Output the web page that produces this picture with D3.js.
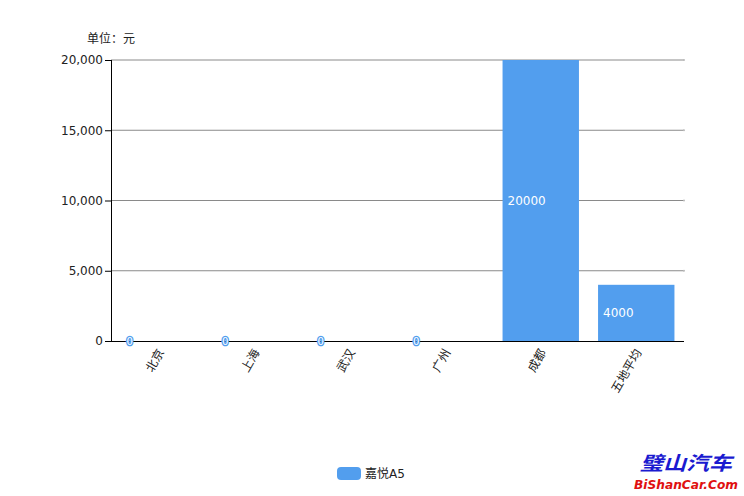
<!DOCTYPE html>
<html><head><meta charset="utf-8">
<script src="https://cdn.jsdelivr.net/npm/d3@7"></script>
<style>body{margin:0;background:#fff}svg{display:block}text{font-family:"DejaVu Sans","Noto Sans CJK SC",sans-serif}</style>
</head><body>
<svg id="c" width="744" height="496"></svg>
<script>
const categories = ["北京","上海","武汉","广州","成都","五地平均"];
const values = [0,0,0,0,20000,4000];
const yTicks = [0,5000,10000,15000,20000];
const seriesName = "嘉悦A5";
const unitLabel = "单位：元";
const color = "#529eee";

const svg = d3.select("#c");
const m = {l:111, r:684, t:60, b:341};
const x = d3.scaleBand().domain(categories).range([m.l, m.r]).paddingInner(0.2).paddingOuter(0.1);
const y = d3.scaleLinear().domain([0,20000]).range([m.b, m.t]);

// gridlines
svg.append("g").selectAll("line").data(yTicks.filter(d=>d>0)).join("line")
  .attr("x1", m.l).attr("x2", m.r).attr("y1", d=>y(d)).attr("y2", d=>y(d))
  .attr("stroke", "#8a8a8a").attr("stroke-width", 1);
svg.append("g").selectAll("circle").data(yTicks.filter(d=>d>0)).join("circle")
  .attr("cx", m.r).attr("cy", d=>y(d)).attr("r", 1).attr("fill", "#bbb");

// y axis
const ya = svg.append("g").attr("transform", `translate(${m.l},0)`)
  .call(d3.axisLeft(y).tickValues(yTicks).tickFormat(d3.format(",")).tickSize(6).tickPadding(2));
ya.select(".domain").remove();
ya.selectAll("line").attr("stroke", "#000");
ya.selectAll("text").attr("font-size", 12).attr("fill", "#222");
svg.append("line").attr("x1", m.l+0.5).attr("x2", m.l+0.5).attr("y1", m.t).attr("y2", m.b).attr("stroke", "#000");

// bars
svg.append("g").selectAll("rect").data(values).join("rect")
  .attr("x", (d,i)=>x(categories[i])).attr("width", x.bandwidth())
  .attr("y", d=>y(d)).attr("height", d=>m.b - y(d)).attr("fill", color);

// baseline
svg.append("line").attr("x1", m.l).attr("x2", m.r).attr("y1", m.b+0.5).attr("y2", m.b+0.5).attr("stroke", "#000");

// value labels
svg.append("g").selectAll("text").data(values).join("text")
  .attr("x", (d,i)=>x(categories[i]) + (d===0 ? 6 : 5))
  .attr("y", d=>(y(d)+m.b)/2 + 4)
  .attr("font-size", d=>d===0 ? 10 : 12)
  .attr("fill", "#fff")
  .attr("stroke", d=>d===0 ? color : "none").attr("stroke-width", d=>d===0 ? 2.5 : 0)
  .attr("paint-order", "stroke")
  .text(d=>d);

// category labels
svg.append("g").selectAll("text").data(categories).join("text")
  .attr("transform", d=>`translate(${x(d)+x.bandwidth()/2+2},${m.b+9}) rotate(-60)`)
  .attr("text-anchor", "end").attr("dy", "0.35em")
  .attr("font-size", 12).attr("fill", "#222").text(d=>d);

// unit label
svg.append("text").attr("x", 87).attr("y", 43).attr("font-size", 12).attr("fill", "#222").text(unitLabel);

// legend
svg.append("rect").attr("x", 337).attr("y", 467).attr("width", 24).attr("height", 13).attr("rx", 4).attr("fill", color);
svg.append("text").attr("x", 365).attr("y", 478).attr("font-size", 12).attr("fill", "#222").text(seriesName);

// watermark
svg.append("text").attr("x", 640).attr("y", 470).attr("textLength", 92).attr("lengthAdjust","spacingAndGlyphs")
  .attr("font-size", 19).attr("font-weight","bold")
  .attr("font-style","italic").attr("fill", "#1a1ad0").attr("font-family","Noto Sans CJK SC").text("璧山汽车");
svg.append("text").attr("x", 634).attr("y", 489).attr("textLength", 104).attr("lengthAdjust","spacingAndGlyphs")
  .attr("font-size", 13).attr("font-weight","bold")
  .attr("font-style","italic").attr("fill", "#e01010").attr("font-family","Liberation Sans").text("BiShanCar.Com");
</script>
</body></html>
